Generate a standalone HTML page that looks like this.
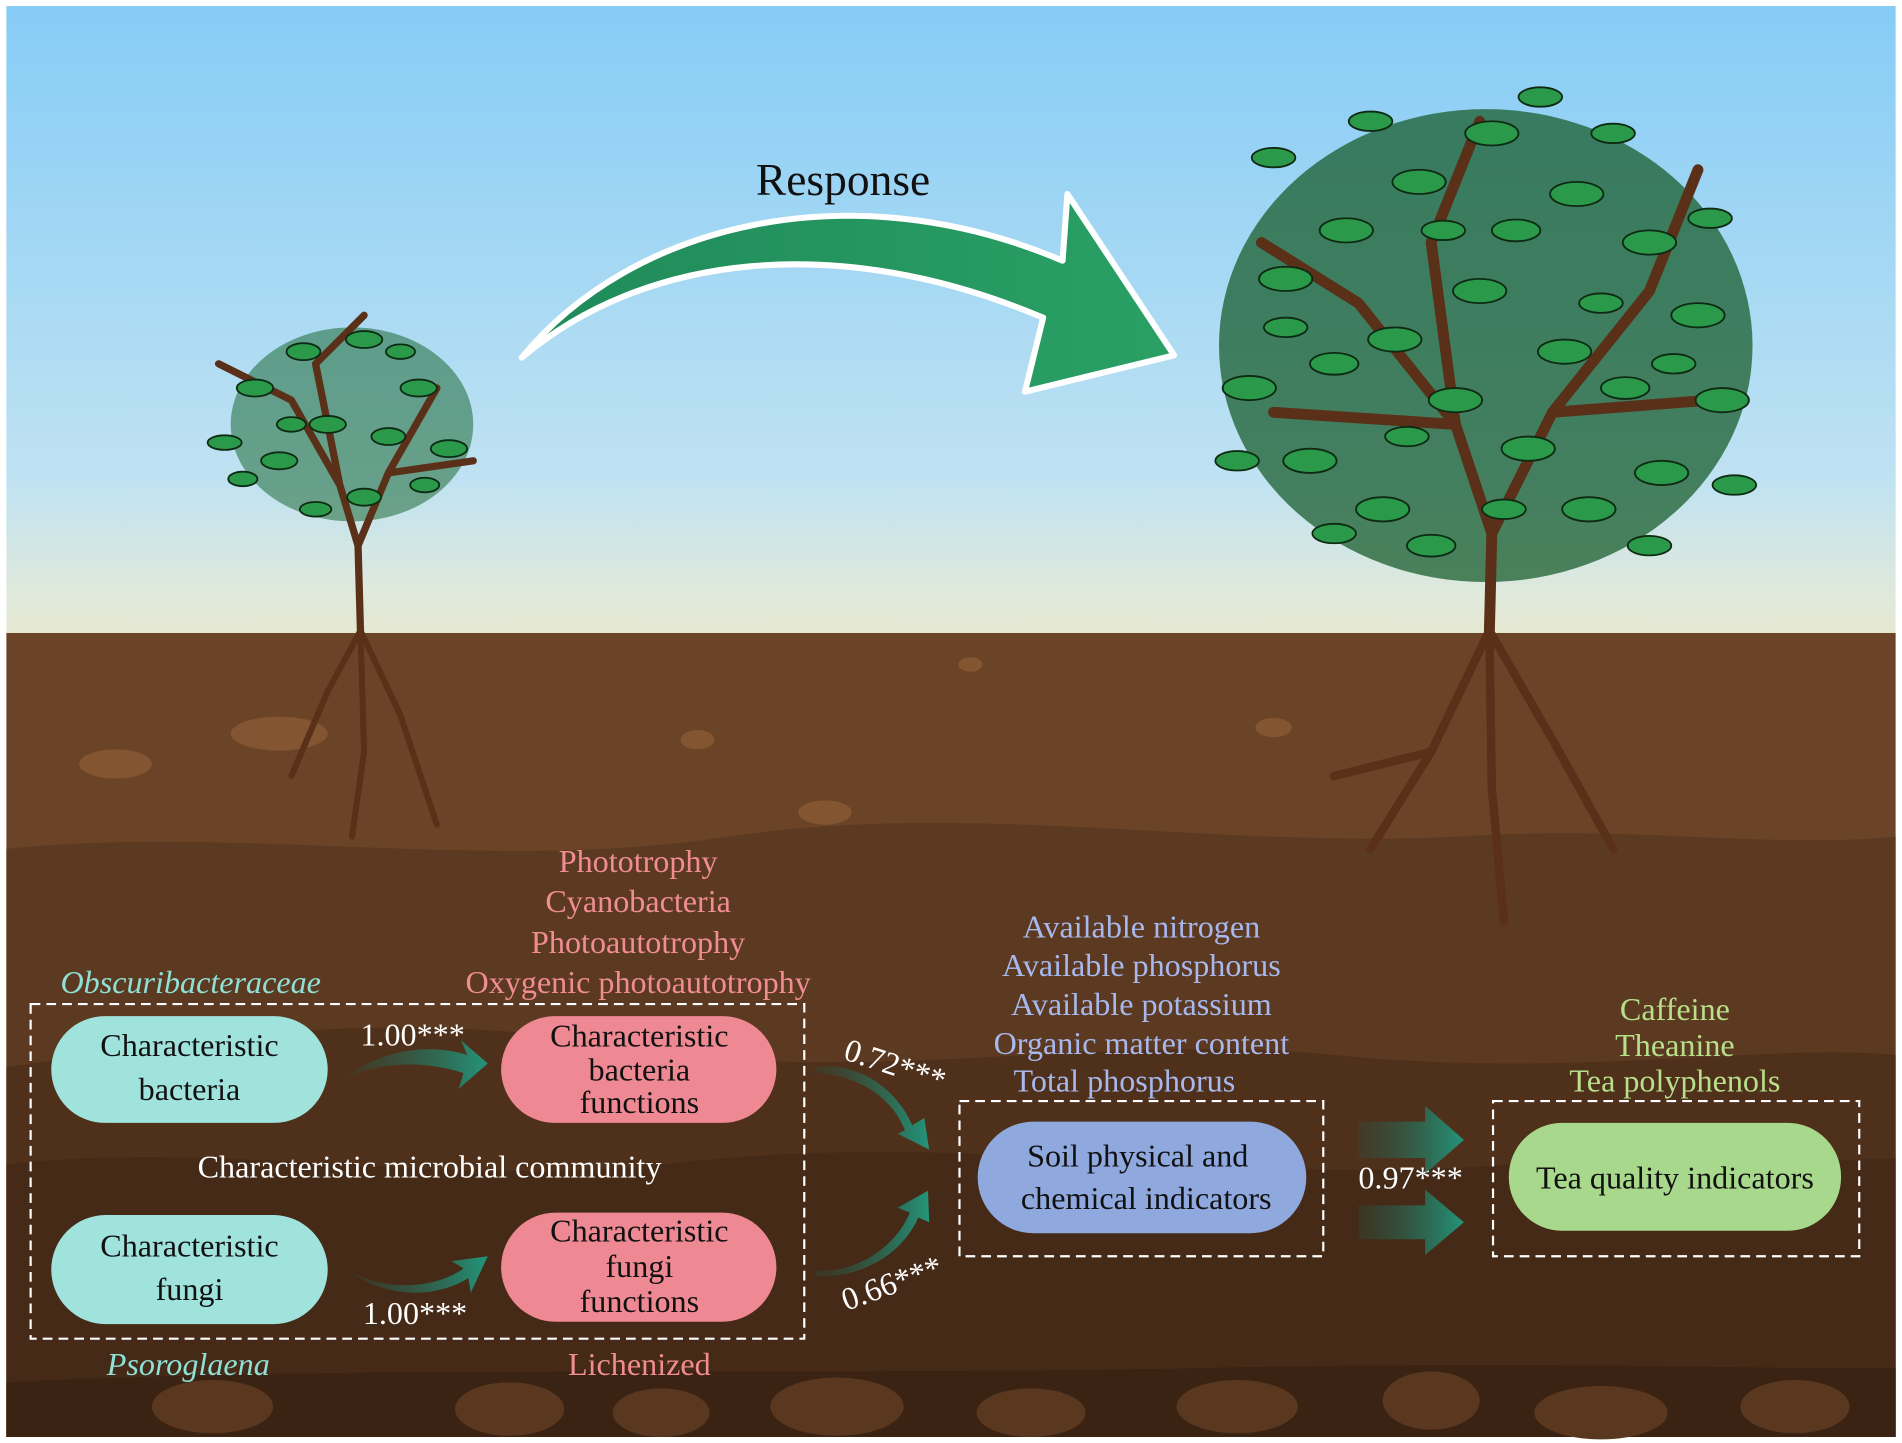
<!DOCTYPE html>
<html><head><meta charset="utf-8"><style>
html,body{margin:0;padding:0;background:#fff;width:1902px;height:1443px;overflow:hidden}
svg{display:block}
text{font-family:"Liberation Serif",serif}
</style></head><body>
<svg width="1902" height="1443" viewBox="0 0 1568 1190" xmlns="http://www.w3.org/2000/svg">
<defs>
<linearGradient id="sky" x1="0" y1="0" x2="0" y2="1">
<stop offset="0" stop-color="#86ccf6"/><stop offset="0.75" stop-color="#bfe2f2"/><stop offset="0.93" stop-color="#dfe9dc"/><stop offset="1" stop-color="#e6e8d0"/></linearGradient>
<linearGradient id="ga" x1="0" y1="0" x2="1" y2="0"><stop offset="0" stop-color="#2a4f40" stop-opacity="0.3"/><stop offset="1" stop-color="#23957a"/></linearGradient>
<linearGradient id="arr" x1="0" y1="0" x2="1" y2="0"><stop offset="0" stop-color="#1f8a5a"/><stop offset="1" stop-color="#2aa065"/></linearGradient>
</defs>
<rect width="1568" height="1190" fill="#fff"/>
<rect x="5" y="5" width="1558" height="520" fill="url(#sky)"/>
<rect x="5" y="522" width="1558" height="663" fill="#6b4427"/>
<path d="M5 700 C200 680 400 720 600 690 C800 660 1000 700 1200 690 C1350 680 1450 700 1563 690 L1563 1185 L5 1185Z" fill="#5c3a21"/>
<path d="M5 880 C150 860 300 830 500 860 C700 900 900 850 1100 870 C1300 890 1450 860 1563 870 L1563 1185 L5 1185Z" fill="#4e301b"/>
<path d="M5 960 C200 940 350 980 550 960 C800 930 1000 980 1250 960 C1400 950 1500 960 1563 955 L1563 1185 L5 1185Z" fill="#442a17"/>
<path d="M5 1140 C300 1125 700 1135 1000 1128 C1300 1122 1450 1130 1563 1128 L1563 1185 L5 1185Z" fill="#3a2313"/>
<g fill="#5a3820">
<ellipse cx="175" cy="1160" rx="50" ry="22"/><ellipse cx="420" cy="1162" rx="45" ry="22"/><ellipse cx="545" cy="1165" rx="40" ry="20"/><ellipse cx="690" cy="1160" rx="55" ry="24"/><ellipse cx="850" cy="1165" rx="45" ry="20"/><ellipse cx="1020" cy="1160" rx="50" ry="22"/><ellipse cx="1180" cy="1155" rx="40" ry="24"/><ellipse cx="1320" cy="1165" rx="55" ry="22"/><ellipse cx="1480" cy="1160" rx="45" ry="22"/>
</g>
<g fill="#8a5a35" opacity="0.8">
<ellipse cx="95" cy="630" rx="30" ry="12"/><ellipse cx="575" cy="610" rx="14" ry="8"/><ellipse cx="680" cy="670" rx="22" ry="10"/><ellipse cx="800" cy="548" rx="10" ry="6"/><ellipse cx="1050" cy="600" rx="15" ry="8"/><ellipse cx="230" cy="605" rx="40" ry="14"/>
</g>
<ellipse cx="290" cy="350" rx="100" ry="80" fill="#1e6a34" opacity="0.55"/>
<ellipse cx="1225" cy="285" rx="220" ry="195" fill="#1a5e2e" opacity="0.75"/>
<g stroke="#5a3018" fill="none" stroke-linecap="round">
<path d="M297 520 L295 450 L280 400 M295 450 L320 390 M280 400 L240 330 M280 400 L260 300 M320 390 L360 320 M320 390 L390 380 M240 330 L180 300 M260 300 L300 260" stroke-width="6"/>
<path d="M297 520 L270 570 L240 640 M297 520 L330 590 L360 680 M297 520 L300 620 L290 690" stroke-width="5"/>
<path d="M1228 520 L1230 440 L1200 350 M1230 440 L1280 340 M1200 350 L1120 250 M1200 350 L1180 200 M1280 340 L1360 240 M1280 340 L1410 330 M1120 250 L1040 200 M1180 200 L1220 100 M1360 240 L1400 140 M1200 350 L1050 340" stroke-width="9"/>
<path d="M1228 520 L1180 620 L1130 700 M1228 520 L1280 610 L1330 700 M1228 520 L1230 650 L1240 760 M1180 620 L1100 640" stroke-width="7"/>
</g>
<g fill="#2a9a4a" stroke="#0e2a12" stroke-width="1.5">
<ellipse cx="210" cy="320" rx="15" ry="7"/><ellipse cx="250" cy="290" rx="14" ry="7"/><ellipse cx="300" cy="280" rx="15" ry="7"/><ellipse cx="345" cy="320" rx="15" ry="7"/><ellipse cx="370" cy="370" rx="15" ry="7"/><ellipse cx="230" cy="380" rx="15" ry="7"/><ellipse cx="270" cy="350" rx="15" ry="7"/><ellipse cx="320" cy="360" rx="14" ry="7"/><ellipse cx="185" cy="365" rx="14" ry="6"/><ellipse cx="300" cy="410" rx="14" ry="7"/><ellipse cx="260" cy="420" rx="13" ry="6"/><ellipse cx="330" cy="290" rx="12" ry="6"/><ellipse cx="240" cy="350" rx="12" ry="6"/><ellipse cx="350" cy="400" rx="12" ry="6"/><ellipse cx="200" cy="395" rx="12" ry="6"/>
<ellipse cx="1060" cy="230" rx="22" ry="10"/><ellipse cx="1110" cy="190" rx="22" ry="10"/><ellipse cx="1170" cy="150" rx="22" ry="10"/><ellipse cx="1230" cy="110" rx="22" ry="10"/><ellipse cx="1300" cy="160" rx="22" ry="10"/><ellipse cx="1360" cy="200" rx="22" ry="10"/><ellipse cx="1400" cy="260" rx="22" ry="10"/><ellipse cx="1420" cy="330" rx="22" ry="10"/><ellipse cx="1030" cy="320" rx="22" ry="10"/><ellipse cx="1080" cy="380" rx="22" ry="10"/><ellipse cx="1140" cy="420" rx="22" ry="10"/><ellipse cx="1310" cy="420" rx="22" ry="10"/><ellipse cx="1370" cy="390" rx="22" ry="10"/><ellipse cx="1150" cy="280" rx="22" ry="10"/><ellipse cx="1220" cy="240" rx="22" ry="10"/><ellipse cx="1290" cy="290" rx="22" ry="10"/><ellipse cx="1200" cy="330" rx="22" ry="10"/><ellipse cx="1260" cy="370" rx="22" ry="10"/><ellipse cx="1100" cy="300" rx="20" ry="9"/><ellipse cx="1340" cy="320" rx="20" ry="9"/><ellipse cx="1250" cy="190" rx="20" ry="9"/><ellipse cx="1180" cy="450" rx="20" ry="9"/>
<ellipse cx="1050" cy="130" rx="18" ry="8"/><ellipse cx="1130" cy="100" rx="18" ry="8"/><ellipse cx="1330" cy="110" rx="18" ry="8"/><ellipse cx="1410" cy="180" rx="18" ry="8"/><ellipse cx="1020" cy="380" rx="18" ry="8"/><ellipse cx="1430" cy="400" rx="18" ry="8"/><ellipse cx="1100" cy="440" rx="18" ry="8"/><ellipse cx="1360" cy="450" rx="18" ry="8"/><ellipse cx="1240" cy="420" rx="18" ry="8"/><ellipse cx="1160" cy="360" rx="18" ry="8"/><ellipse cx="1320" cy="250" rx="18" ry="8"/><ellipse cx="1060" cy="270" rx="18" ry="8"/><ellipse cx="1190" cy="190" rx="18" ry="8"/><ellipse cx="1270" cy="80" rx="18" ry="8"/><ellipse cx="1380" cy="300" rx="18" ry="8"/>
</g>
<path d="M430 295 C520 185 700 140 876 215 L880 160 L968 293 L845 323 L860 262 C690 190 530 210 430 295Z" fill="url(#arr)" stroke="#fff" stroke-width="5" stroke-linejoin="round"/>
<text x="695" y="161" font-size="37.5" text-anchor="middle" fill="#111">Response</text>
<g fill="none" stroke="#fff" stroke-width="1.8" stroke-dasharray="8 5">
<rect x="25" y="828" width="638" height="276"/>
<rect x="791" y="908" width="300" height="128"/>
<rect x="1231" y="908" width="302" height="128"/>
</g>
<rect x="42" y="838" width="228" height="88" rx="44" fill="#a0e2dc"/>
<rect x="42" y="1002" width="228" height="90" rx="45" fill="#a0e2dc"/>
<rect x="413" y="838" width="227" height="88" rx="44" fill="#ee8892"/>
<rect x="413" y="1000" width="227" height="90" rx="45" fill="#ee8892"/>
<rect x="806" y="925" width="271" height="92" rx="46" fill="#8fa8de"/>
<rect x="1244" y="926" width="274" height="89" rx="44" fill="#a8d88c"/>
<g font-size="26.5" text-anchor="middle" fill="#111">
<text x="156" y="871">Characteristic</text><text x="156" y="907">bacteria</text>
<text x="156" y="1036">Characteristic</text><text x="156" y="1072">fungi</text>
<text x="527" y="863">Characteristic</text><text x="527" y="891">bacteria</text><text x="527" y="918">functions</text>
<text x="527" y="1024">Characteristic</text><text x="527" y="1053">fungi</text><text x="527" y="1082">functions</text>
<text x="938" y="962">Soil physical and</text><text x="945" y="997">chemical indicators</text>
<text x="1381" y="980">Tea quality indicators</text>
</g>
<g font-size="26.5" text-anchor="middle" fill="#fff">
<text x="354" y="971">Characteristic microbial community</text>
<text x="340" y="862">1.00***</text>
<text x="342" y="1092">1.00***</text>
<text x="1163" y="980">0.97***</text>
<text x="738" y="887" transform="rotate(18 738 878)">0.72***</text>
<text x="735" y="1067" transform="rotate(-20 735 1058)">0.66***</text>
</g>
<g font-size="26.5" text-anchor="middle" font-style="italic" fill="#8fe0d6">
<text x="157" y="819">Obscuribacteraceae</text><text x="155" y="1134">Psoroglaena</text>
</g>
<g font-size="26.5" text-anchor="middle" fill="#f08c92">
<text x="526" y="719">Phototrophy</text><text x="526" y="752">Cyanobacteria</text><text x="526" y="786">Photoautotrophy</text><text x="526" y="819">Oxygenic photoautotrophy</text><text x="527" y="1134">Lichenized</text>
</g>
<g font-size="26.5" text-anchor="middle" fill="#a8b8ee">
<text x="941" y="773">Available nitrogen</text><text x="941" y="805">Available phosphorus</text><text x="941" y="837">Available potassium</text><text x="941" y="869">Organic matter content</text><text x="927" y="900">Total phosphorus</text>
</g>
<g font-size="26.5" text-anchor="middle" fill="#b8e08a">
<text x="1381" y="841">Caffeine</text><text x="1381" y="871">Theanine</text><text x="1381" y="900">Tea polyphenols</text>
</g>
<g fill="url(#ga)">
<path d="M285 888 C320 862 360 862 385 870 L380 858 L402 877 L378 898 L382 885 C355 876 320 874 285 888Z"/>
<path d="M287 1048 C320 1066 360 1062 382 1046 L372 1040 L402 1036 L388 1066 L386 1054 C360 1070 320 1072 287 1048Z"/>
<path d="M672 880 C710 875 740 900 752 928 L762 922 L766 948 L740 935 L746 932 C735 905 710 888 672 884Z"/>
<path d="M672 1048 C710 1050 740 1025 750 1000 L740 996 L765 982 L766 1008 L757 1004 C745 1032 712 1055 672 1052Z"/>
<path d="M1120 925 L1175 925 L1175 912 L1207 940 L1175 968 L1175 955 L1120 955Z"/>
<path d="M1120 994 L1175 994 L1175 981 L1207 1008 L1175 1035 L1175 1022 L1120 1022Z"/>
</g>
</svg>
</body></html>
